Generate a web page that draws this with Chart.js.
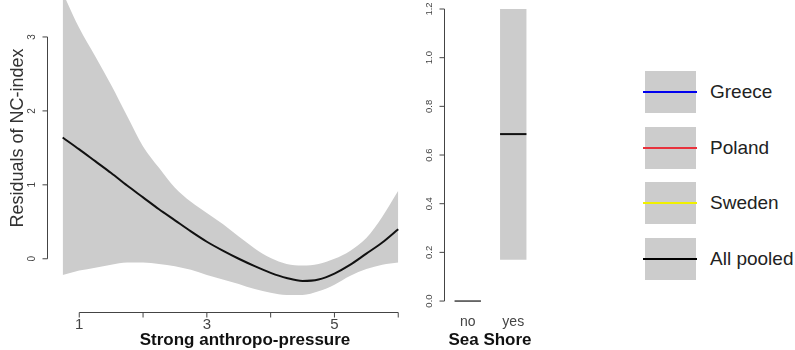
<!DOCTYPE html>
<html>
<head>
<meta charset="utf-8">
<script src="https://cdn.jsdelivr.net/npm/chart.js@4.4.1/dist/chart.umd.min.js"></script>
<style>
  body { margin: 0; background: #fff; font-family: 'Liberation Sans', Arial, sans-serif; }
  #wrap { position: relative; width: 795px; height: 350px; overflow: hidden; }
  canvas { position: absolute; top: 0; }
  #leftChart { left: 0; }
  #shoreChart { left: 410px; }
  .lg-box { position: absolute; left: 645px; width: 51px; height: 42px; background: #cccccc; }
  .lg-line { position: absolute; left: 643px; width: 54px; height: 2px; }
  .lg-text { position: absolute; left: 710px; font-size: 19px; color: #222; line-height: 20px; }
</style>
</head>
<body>
<div id="wrap">
  <canvas id="leftChart" width="420" height="350"></canvas>
  <canvas id="shoreChart" width="160" height="350"></canvas>
  <div id="legend"></div>
</div>
<script>
// smooth term for strong anthropo-pressure
const pressureX = [0.74, 1, 1.25, 1.5, 1.75, 2, 2.25, 2.5, 2.75, 3, 3.25, 3.5, 3.75, 4, 4.25, 4.5, 4.75, 5, 5.25, 5.5, 5.75, 6];
const fitNC = [1.64, 1.48, 1.32, 1.16, 0.99, 0.83, 0.67, 0.52, 0.37, 0.23, 0.11, 0.0, -0.10, -0.19, -0.26, -0.30, -0.28, -0.20, -0.08, 0.07, 0.22, 0.40];
const upperNC = [3.6, 3.12, 2.74, 2.35, 1.93, 1.52, 1.23, 0.96, 0.77, 0.62, 0.47, 0.30, 0.14, 0.01, -0.07, -0.09, -0.07, 0.00, 0.11, 0.28, 0.57, 0.92];
const lowerNC = [-0.22, -0.16, -0.12, -0.08, -0.05, -0.05, -0.07, -0.10, -0.15, -0.22, -0.28, -0.34, -0.41, -0.46, -0.49, -0.49, -0.44, -0.35, -0.23, -0.14, -0.08, -0.05];
const pressureTicks = [1, 2, 3, 4, 5, 6];
const pressureTickLabels = ['1', '', '3', '', '5', ''];
const residualTicks = [0, 1, 2, 3];

// sea shore factor
const shoreCategories = ['no', 'yes'];
const shoreFit = [0, 0.686];
const shoreLower = [0, 0.17];
const shoreUpper = [0, 1.2];
const shoreTicks = [0, 0.2, 0.4, 0.6, 0.8, 1.0, 1.2];

// legend
const legendLabels = ['Greece', 'Poland', 'Sweden', 'All pooled'];
const legendColors = ['#0000ee', '#e8323c', '#f0f000', '#000000'];

const FONT = "'Liberation Sans', Arial, sans-serif";

// R style axes: line only between first and last tick, rotated y labels
const rAxes = {
  id: 'rAxes',
  afterDraw(chart, args, o) {
    const { ctx, chartArea: a, scales } = chart;
    ctx.save();
    ctx.strokeStyle = '#444';
    ctx.fillStyle = '#444';
    ctx.lineWidth = 1;

    if (o.xTicks) {
      const xs = o.xTicks.map(v => scales.x.getPixelForValue(v));
      const y = Math.round(a.bottom) + 0.5;
      if (o.xLine) {
        ctx.beginPath();
        ctx.moveTo(xs[0], y);
        ctx.lineTo(xs[xs.length - 1], y);
        xs.forEach(x => { ctx.moveTo(x, y); ctx.lineTo(x, y + 5); });
        ctx.stroke();
      }
      ctx.font = o.xFont;
      ctx.textAlign = 'center';
      ctx.textBaseline = 'middle';
      xs.forEach((x, i) => {
        if (o.xLabels[i]) ctx.fillText(o.xLabels[i], x, y + o.xPad);
      });
    }

    if (o.yTicks) {
      const ys = o.yTicks.map(v => scales.y.getPixelForValue(v));
      const x = Math.round(a.left) - 0.5;
      ctx.beginPath();
      ctx.moveTo(x, ys[0]);
      ctx.lineTo(x, ys[ys.length - 1]);
      ys.forEach(yy => { ctx.moveTo(x, yy); ctx.lineTo(x - 5, yy); });
      ctx.stroke();
      ctx.font = o.yFont;
      ctx.textAlign = 'center';
      ctx.textBaseline = 'middle';
      ys.forEach((yy, i) => {
        ctx.save();
        ctx.translate(x - o.yPad, yy);
        ctx.rotate(-Math.PI / 2);
        ctx.fillText(o.yLabels[i], 0, 0);
        ctx.restore();
      });
    }

    ctx.fillStyle = '#111';
    if (o.xTitle) {
      ctx.font = 'bold 17px ' + FONT;
      ctx.textAlign = 'center';
      ctx.textBaseline = 'middle';
      ctx.fillText(o.xTitle, o.xTitleX, o.xTitleY);
    }
    if (o.yTitle) {
      ctx.fillStyle = '#333';
      ctx.font = '18px ' + FONT;
      ctx.save();
      ctx.translate(o.yTitleX, o.yTitleY);
      ctx.rotate(-Math.PI / 2);
      ctx.textAlign = 'center';
      ctx.textBaseline = 'middle';
      ctx.fillText(o.yTitle, 0, 0);
      ctx.restore();
    }
    ctx.restore();
  }
};

// median line across each box
const medianLines = {
  id: 'medianLines',
  afterDatasetsDraw(chart, args, o) {
    const ctx = chart.ctx;
    const meta = chart.getDatasetMeta(0);
    ctx.save();
    ctx.strokeStyle = '#111';
    meta.data.forEach((bar, i) => {
      const y = chart.scales.y.getPixelForValue(o.values[i]);
      ctx.lineWidth = o.widths[i];
      ctx.beginPath();
      ctx.moveTo(bar.x - bar.width / 2, y);
      ctx.lineTo(bar.x + bar.width / 2, y);
      ctx.stroke();
    });
    ctx.restore();
  }
};

new Chart(document.getElementById('leftChart'), {
  type: 'line',
  data: {
    datasets: [
      {
        data: pressureX.map((x, i) => ({ x, y: fitNC[i] })),
        borderColor: '#111',
        borderWidth: 2,
        pointRadius: 0,
        fill: false,
        cubicInterpolationMode: 'monotone'
      },
      {
        data: pressureX.map((x, i) => ({ x, y: upperNC[i] })),
        borderWidth: 0,
        borderColor: 'rgba(0,0,0,0)',
        backgroundColor: '#cccccc',
        pointRadius: 0,
        fill: '+1',
        cubicInterpolationMode: 'monotone'
      },
      {
        data: pressureX.map((x, i) => ({ x, y: lowerNC[i] })),
        borderWidth: 0,
        borderColor: 'rgba(0,0,0,0)',
        pointRadius: 0,
        fill: false,
        cubicInterpolationMode: 'monotone'
      }
    ]
  },
  options: {
    responsive: false,
    animation: false,
    layout: { padding: { left: 48, right: 9, top: 0, bottom: 38 } },
    scales: {
      x: { type: 'linear', min: 0.51, max: 6.2, display: false },
      y: { min: -0.72, max: 3.5, display: false }
    },
    plugins: {
      legend: { display: false },
      tooltip: { enabled: false },
      filler: { drawTime: 'beforeDatasetsDraw' },
      rAxes: {
        xTicks: pressureTicks,
        xLabels: pressureTickLabels,
        xLine: true,
        xFont: '15px ' + FONT,
        xPad: 12,
        yTicks: residualTicks,
        yLabels: residualTicks.map(String),
        yFont: '10px ' + FONT,
        yPad: 15,
        xTitle: 'Strong anthropo-pressure',
        xTitleX: 245,
        xTitleY: 340,
        yTitle: 'Residuals of NC-index',
        yTitleX: 18,
        yTitleY: 138
      }
    }
  },
  plugins: [rAxes]
});

new Chart(document.getElementById('shoreChart'), {
  type: 'bar',
  data: {
    labels: shoreCategories,
    datasets: [{
      data: shoreCategories.map((c, i) => [shoreLower[i], shoreUpper[i]]),
      backgroundColor: '#cccccc',
      borderWidth: 0,
      categoryPercentage: 1,
      barPercentage: 0.58
    }]
  },
  options: {
    responsive: false,
    animation: false,
    layout: { padding: { left: 35, right: 34, top: 0, bottom: 38 } },
    scales: {
      x: { display: false },
      y: { min: -0.045, max: 1.237, display: false }
    },
    plugins: {
      legend: { display: false },
      tooltip: { enabled: false },
      medianLines: { values: shoreFit, widths: [1.2, 2] },
      rAxes: {
        xTicks: shoreCategories.map((c, i) => i),
        xLabels: shoreCategories,
        xLine: false,
        xFont: '14px ' + FONT,
        xPad: 10,
        yTicks: shoreTicks,
        yLabels: shoreTicks.map(v => v.toFixed(1)),
        yFont: '9.5px ' + FONT,
        yPad: 15,
        xTitle: 'Sea Shore',
        xTitleX: 80,
        xTitleY: 340
      }
    }
  },
  plugins: [medianLines, rAxes]
});

// legend: grey band box with the country's line through it
const legend = document.getElementById('legend');
legendLabels.forEach((label, i) => {
  const top = 71 + i * 55.7;
  const box = document.createElement('div');
  box.className = 'lg-box';
  box.style.top = top + 'px';
  const line = document.createElement('div');
  line.className = 'lg-line';
  line.style.top = (top + 20) + 'px';
  line.style.background = legendColors[i];
  const text = document.createElement('div');
  text.className = 'lg-text';
  text.style.top = (top + 11) + 'px';
  text.textContent = label;
  legend.appendChild(box);
  legend.appendChild(line);
  legend.appendChild(text);
});
</script>
</body>
</html>
